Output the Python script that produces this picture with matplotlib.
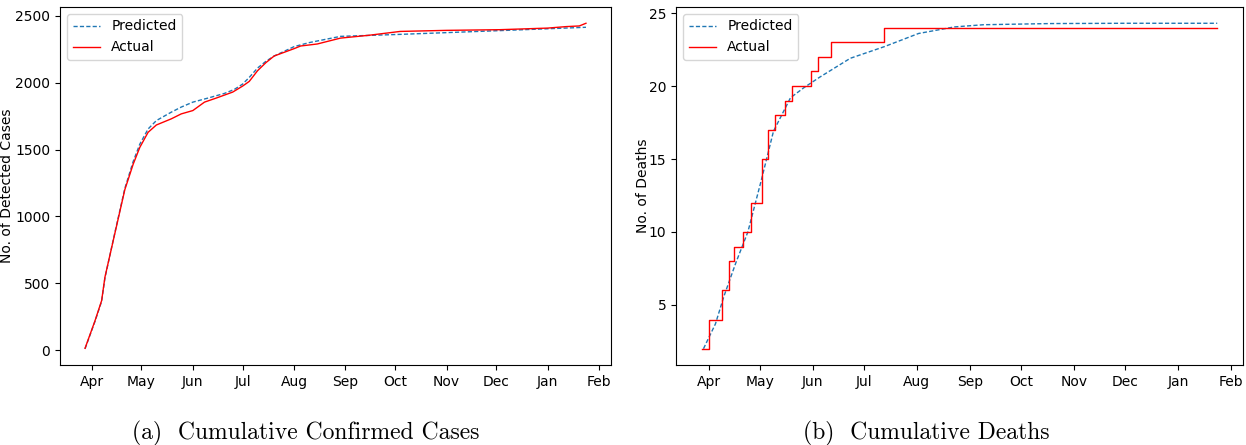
import matplotlib
matplotlib.use("Agg")
import matplotlib.pyplot as plt
import matplotlib.dates as mdates
import numpy as np
import pandas as pd

# ---------------- Data ----------------
# Cumulative confirmed cases (left panel)
case_actual_dates = ["2020-03-28", "2020-04-03", "2020-04-07", "2020-04-09", "2020-04-15",
                     "2020-04-21", "2020-04-23", "2020-04-26", "2020-04-30", "2020-05-05",
                     "2020-05-10", "2020-05-19", "2020-05-25", "2020-06-01", "2020-06-08",
                     "2020-06-15", "2020-06-25", "2020-07-01", "2020-07-05", "2020-07-10",
                     "2020-07-15", "2020-07-20", "2020-08-01", "2020-08-05", "2020-08-15",
                     "2020-08-29", "2020-09-15", "2020-10-04", "2020-11-01", "2020-12-03",
                     "2021-01-01", "2021-01-12", "2021-01-20", "2021-01-24"]
case_actual = [13, 219, 370, 546, 874, 1201, 1276, 1390, 1516, 1629,
               1684, 1730, 1767, 1792, 1855, 1885, 1930, 1975, 2010, 2090,
               2150, 2200, 2255, 2275, 2290, 2334, 2355, 2384, 2392, 2397,
               2409, 2420, 2425, 2445]

case_pred_dates = ["2020-03-28", "2020-04-03", "2020-04-07", "2020-04-09", "2020-04-15",
                   "2020-04-21", "2020-04-26", "2020-04-30", "2020-05-05", "2020-05-10",
                   "2020-05-19", "2020-05-25", "2020-06-01", "2020-06-10", "2020-06-20",
                   "2020-06-26", "2020-07-01", "2020-07-05", "2020-07-10", "2020-07-15",
                   "2020-07-20", "2020-08-01", "2020-08-10", "2020-08-29", "2020-10-04",
                   "2020-11-01", "2020-12-03", "2021-01-01", "2021-01-24"]
case_pred = [10, 215, 365, 540, 880, 1210, 1410, 1540, 1654, 1717,
             1780, 1818, 1855, 1885, 1920, 1950, 1990, 2040, 2110, 2160,
             2200, 2270, 2300, 2347, 2362, 2375, 2390, 2404, 2415]

# Cumulative deaths (right panel): step change dates and values
death_actual_dates = ["2020-03-28", "2020-04-01", "2020-04-09", "2020-04-13", "2020-04-16",
                      "2020-04-21", "2020-04-26", "2020-05-02", "2020-05-06", "2020-05-10",
                      "2020-05-16", "2020-05-20", "2020-05-31", "2020-06-04", "2020-06-12",
                      "2020-07-13", "2021-01-24"]
death_actual = [2, 4, 6, 8, 9, 10, 12, 15, 17, 18, 19, 20, 21, 22, 23, 24, 24]

death_pred_dates = ["2020-03-29", "2020-04-05", "2020-04-10", "2020-04-17", "2020-04-24",
                    "2020-05-02", "2020-05-09", "2020-05-19", "2020-05-27", "2020-06-05",
                    "2020-06-23", "2020-07-13", "2020-08-02", "2020-08-23", "2020-09-09",
                    "2020-10-18", "2020-12-01", "2021-01-24"]
death_pred = [2.0, 3.7, 5.6, 7.9, 10.0, 13.6, 16.9, 19.2, 19.9, 20.6,
              21.9, 22.7, 23.6, 24.05, 24.2, 24.28, 24.3, 24.3]

captions = ["(a)  Cumulative Confirmed Cases", "(b)  Cumulative Deaths"]
ylabels = ["No. of Detected Cases", "No. of Deaths"]

# ---------------- Plot ----------------
fig = plt.figure(figsize=(12.46, 4.45), dpi=100)
ax1 = fig.add_axes([60 / 1246, 1 - 365 / 445, 551 / 1246, 358 / 445])
ax2 = fig.add_axes([676 / 1246, 1 - 365 / 445, 567 / 1246, 358 / 445])

pred_color = "#1f77b4"
act_color = "red"
dash = (0, (3, 1.6))

ax1.plot(pd.to_datetime(case_pred_dates), case_pred, linestyle=dash, color=pred_color, lw=1, label="Predicted")
ax1.plot(pd.to_datetime(case_actual_dates), case_actual, "-", color=act_color, lw=1, label="Actual")
ax1.set_yticks([0, 500, 1000, 1500, 2000, 2500])

ax2.plot(pd.to_datetime(death_pred_dates), death_pred, linestyle=dash, color=pred_color, lw=1, label="Predicted")
ax2.step(pd.to_datetime(death_actual_dates), death_actual, where="post", color=act_color, lw=1, label="Actual")
ax2.set_yticks([5, 10, 15, 20, 25])

for ax, yl in zip([ax1, ax2], ylabels):
    ax.xaxis.set_major_locator(mdates.MonthLocator())
    ax.xaxis.set_major_formatter(mdates.DateFormatter("%b"))
    ax.tick_params(labelsize=10)
    ax.set_ylabel(yl, fontsize=10)
    ax.legend(loc="upper left", fontsize=10)

ax1.yaxis.set_label_coords(-0.083, 0.5)
ax2.yaxis.set_label_coords(-0.046, 0.5)

fig.text(306 / 1246, 1 - 433 / 445, captions[0], fontsize=17, family="cmr10",
         ha="center", va="center")
fig.text(926 / 1246, 1 - 433 / 445, captions[1], fontsize=17, family="cmr10",
         ha="center", va="center")

fig.savefig("out.png", dpi=100)
